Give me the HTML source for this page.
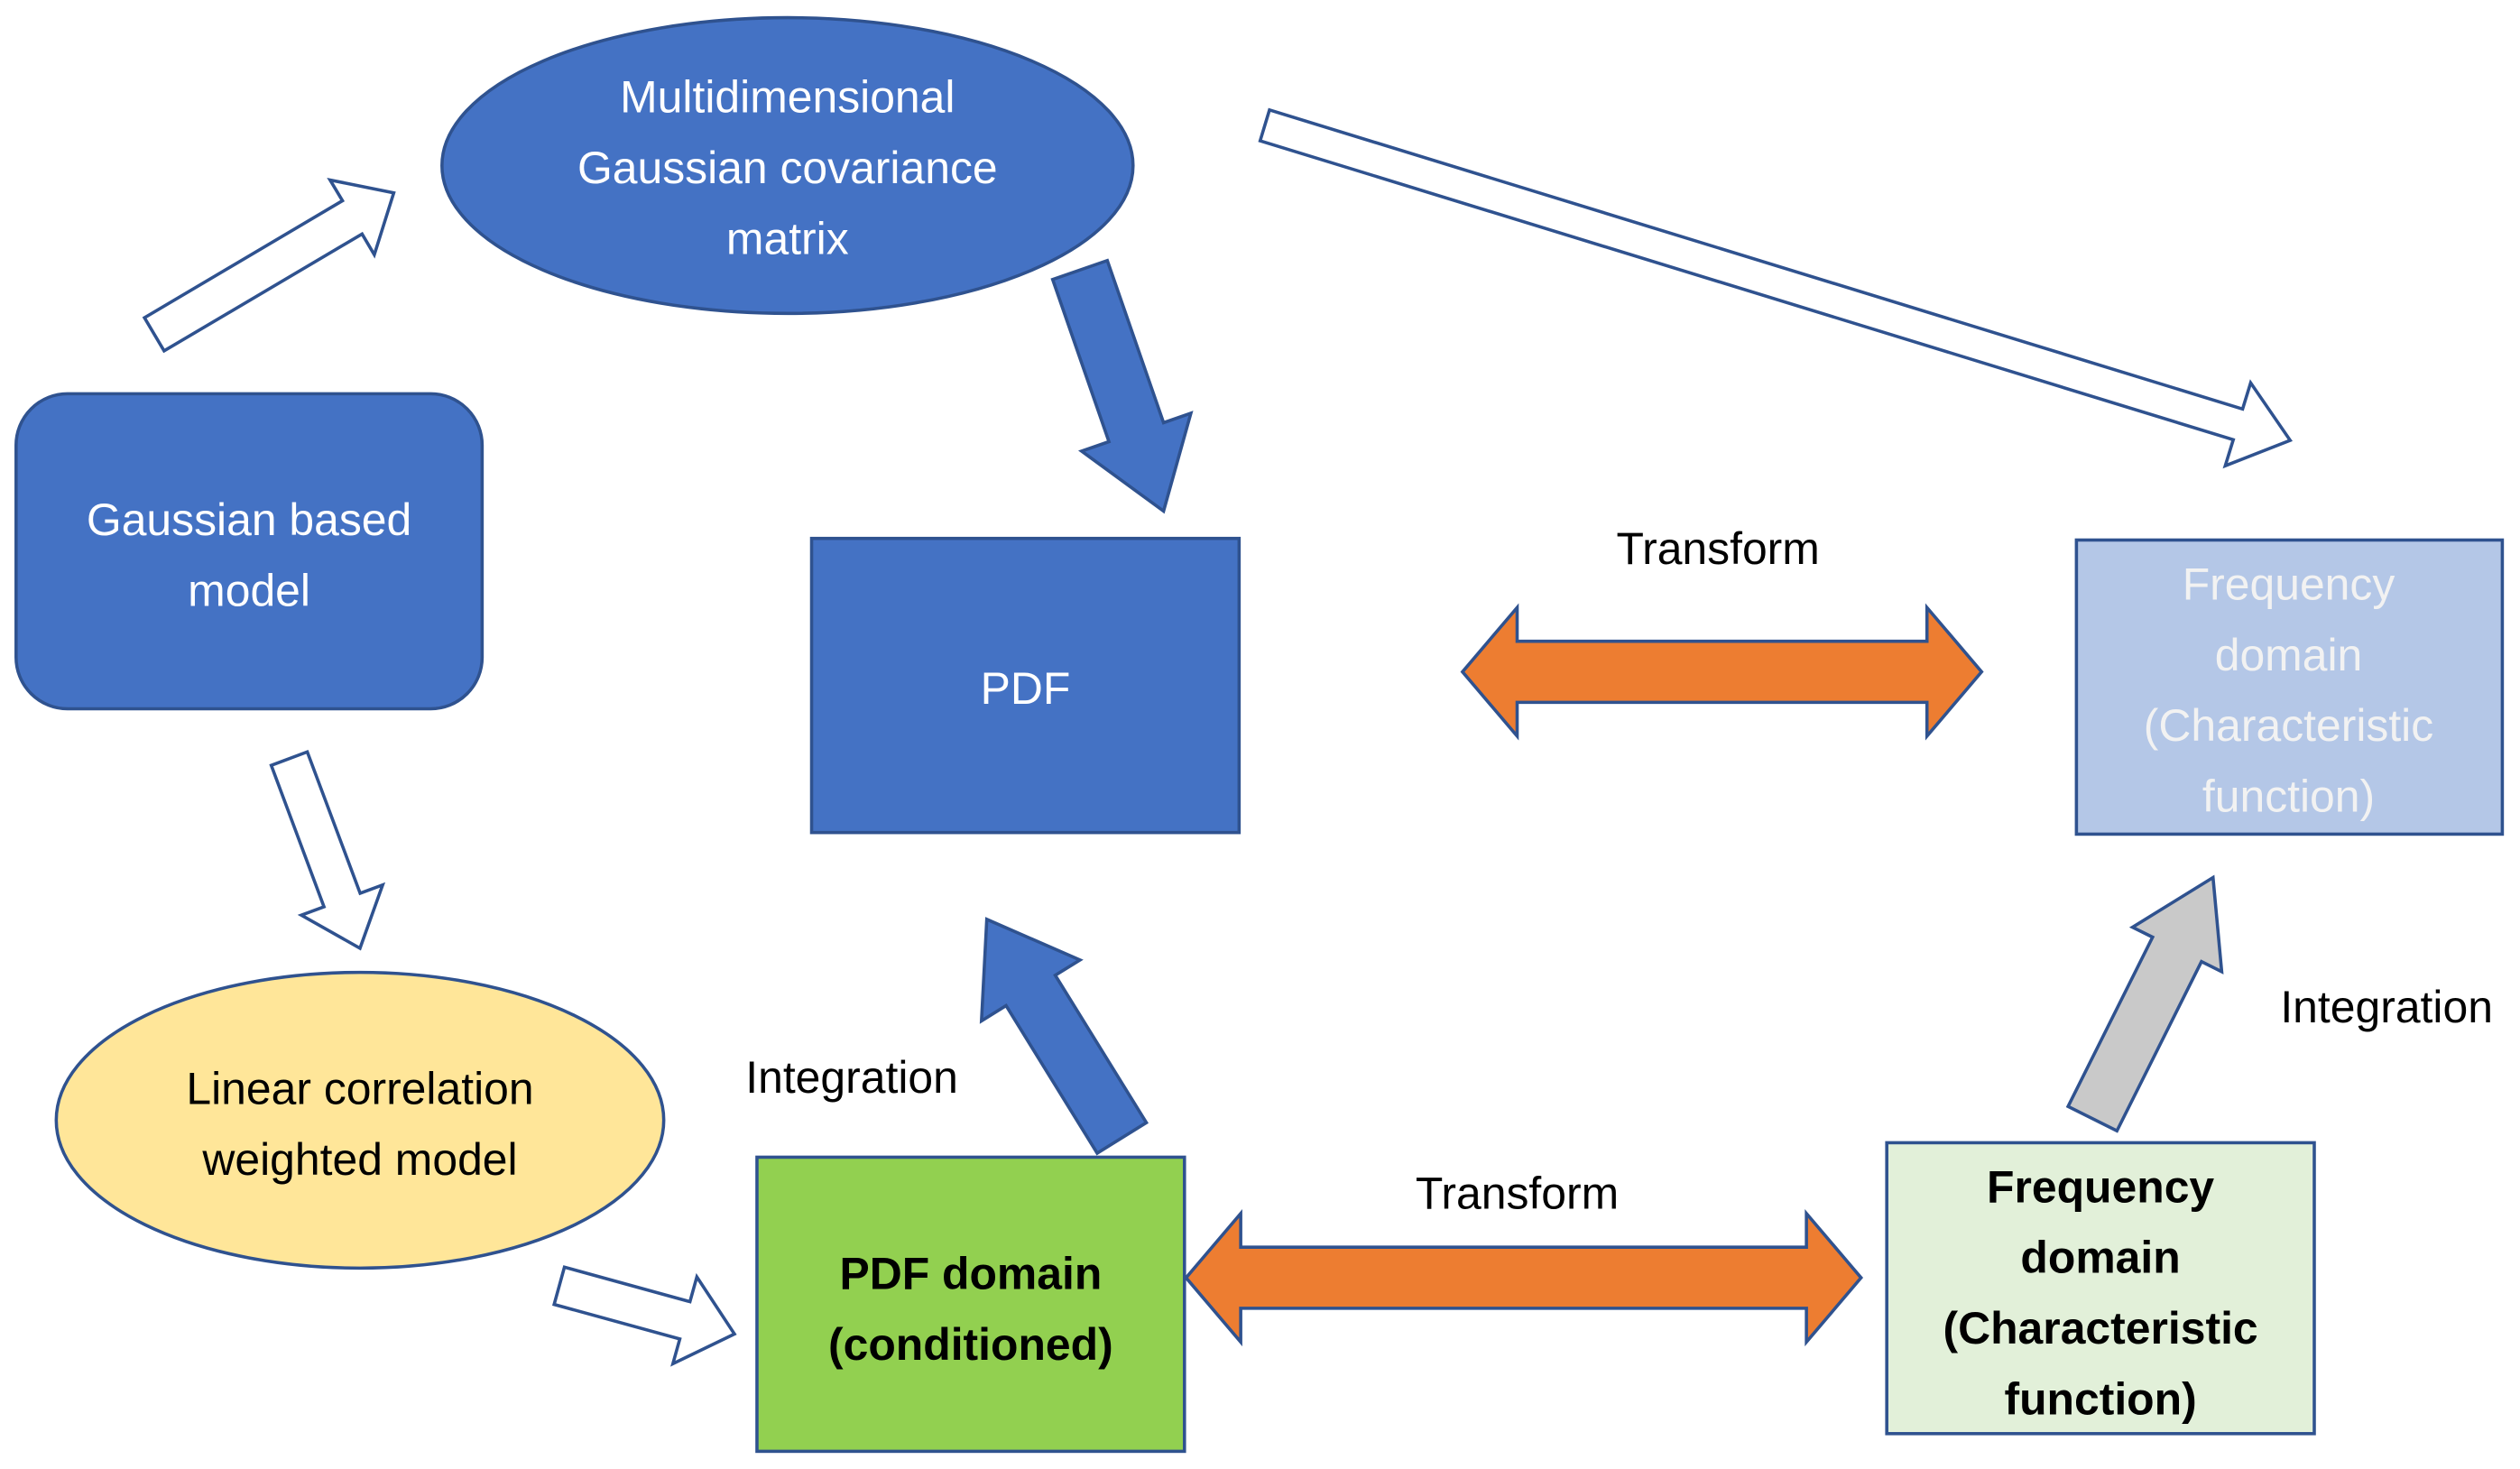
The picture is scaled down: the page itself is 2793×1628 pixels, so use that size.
<!DOCTYPE html>
<html><head><meta charset="utf-8"><style>
html,body{margin:0;padding:0;background:#fff;}
svg{display:block;}
text{font-family:"Liberation Sans",sans-serif;font-size:28px;text-anchor:middle;}
</style></head><body>
<svg id="s" width="2793" height="1628" viewBox="0 0 1568 914" preserveAspectRatio="none" xmlns="http://www.w3.org/2000/svg">
<g id="arrows"></g>
<ellipse cx="490" cy="103" rx="215" ry="92" fill="#4472C4" stroke="#2F528F" stroke-width="2"/>
<rect x="10" y="245" width="290" height="196" rx="32" fill="#4472C4" stroke="#2F528F" stroke-width="2"/>
<ellipse cx="224" cy="697" rx="189" ry="92" fill="#FFE699" stroke="#2F528F" stroke-width="2"/>
<rect x="505" y="335" width="266" height="183" fill="#4472C4" stroke="#2F528F" stroke-width="2"/>
<rect x="1292" y="336" width="265" height="183" fill="#B4C7E7" stroke="#2F528F" stroke-width="2"/>
<rect x="471" y="720" width="266" height="183" fill="#92D050" stroke="#2F528F" stroke-width="2"/>
<rect x="1174" y="711" width="266" height="181" fill="#E2F0D9" stroke="#2F528F" stroke-width="2"/>
<g fill="#fff">
<text x="490" y="70">Multidimensional</text>
<text x="490" y="114">Gaussian covariance</text>
<text x="490" y="158">matrix</text>
<text x="155" y="333">Gaussian based</text>
<text x="155" y="377">model</text>
<text x="638" y="438">PDF</text>
</g>
<g fill="#F2F2F2">
<text x="1424" y="373">Frequency</text>
<text x="1424" y="417">domain</text>
<text x="1424" y="461">(Characteristic</text>
<text x="1424" y="505">function)</text>
</g>
<g fill="#000">
<text x="224" y="687">Linear correlation</text>
<text x="224" y="731">weighted model</text>
<text x="1069" y="351">Transform</text>
<text x="944" y="752">Transform</text>
<text x="530" y="680">Integration</text>
<text x="1485" y="636">Integration</text>
<g font-weight="bold">
<text x="604" y="802">PDF domain</text>
<text x="604" y="846">(conditioned)</text>
<text x="1307" y="748">Frequency</text>
<text x="1307" y="792">domain</text>
<text x="1307" y="836">(Characteristic</text>
<text x="1307" y="880">function)</text>
</g>
</g>
</svg>
<script>
var g=document.getElementById('arrows');
function arrow(x1,y1,x2,y2,sw,hw,hl,fill,dbl){
 var dx=x2-x1,dy=y2-y1,L=Math.hypot(dx,dy),ux=dx/L,uy=dy/L,nx=-uy,ny=ux;
 function p(t,o){return (x1+ux*t+nx*o).toFixed(1)+','+(y1+uy*t+ny*o).toFixed(1);}
 var pts;
 if(dbl){pts=[p(0,0),p(hl,hw/2),p(hl,sw/2),p(L-hl,sw/2),p(L-hl,hw/2),p(L,0),p(L-hl,-hw/2),p(L-hl,-sw/2),p(hl,-sw/2),p(hl,-hw/2)];}
 else{pts=[p(0,sw/2),p(L-hl,sw/2),p(L-hl,hw/2),p(L,0),p(L-hl,-hw/2),p(L-hl,-sw/2),p(0,-sw/2)];}
 var e=document.createElementNS('http://www.w3.org/2000/svg','polygon');
 e.setAttribute('points',pts.join(' '));e.setAttribute('fill',fill);
 e.setAttribute('stroke','#2F528F');e.setAttribute('stroke-width','2');e.setAttribute('stroke-linejoin','miter');
 g.appendChild(e);
}
arrow(96,208,245,120,24,54,30,'#fff');
arrow(180,472,224,590,24,54,32,'#fff');
arrow(348,800,457,830,24,56,32,'#fff');
arrow(787,78,1425,274,20,54,34,'#fff');
arrow(672,168,724,318,36,72,52,'#4472C4');
arrow(698,708,614,572,36,72,52,'#4472C4');
arrow(1302,696,1377,546,34,62,50,'#C9C9C9');
arrow(910,418,1233,418,38,80,34,'#ED7D31',1);
arrow(738,795,1158,795,38,80,34,'#ED7D31',1);
</script>
</body></html>
